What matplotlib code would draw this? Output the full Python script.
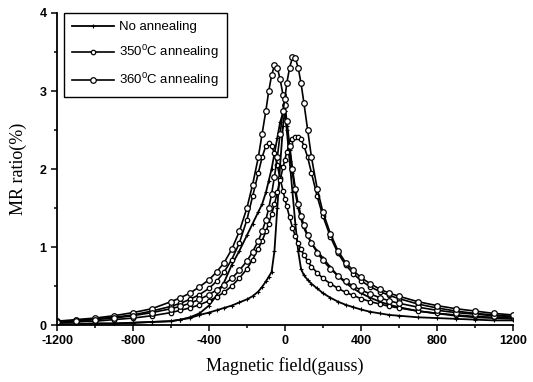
import matplotlib
matplotlib.use("Agg")
import matplotlib.pyplot as plt
from matplotlib.ticker import MultipleLocator

# magnetic field grid (gauss), shared by all branches
field = [-1200, -1100, -1000, -900, -800, -700, -600, -550, -500, -450, -400,
         -360, -320, -280, -240, -200, -170, -140, -120, -100, -85, -70, -55,
         -40, -25, -10, 0, 10, 25, 40, 55, 70, 85, 100, 120, 140, 170, 200,
         240, 280, 320, 360, 400, 450, 500, 550, 600, 700, 800, 900, 1000,
         1100, 1200]

# no annealing, two sweep branches
mr_none_a = [0.01, 0.01, 0.02, 0.02, 0.03, 0.04, 0.05, 0.07, 0.09, 0.13, 0.16,
             0.19, 0.22, 0.25, 0.29, 0.33, 0.37, 0.43, 0.49, 0.56, 0.62, 0.68, 0.95,
             1.5, 2.05, 2.55, 2.75, 2.55, 2.25, 1.95, 1.7, 1.5, 1.36, 1.25, 1.14, 1.05, 0.95, 0.86,
             0.74, 0.63, 0.54, 0.47, 0.41, 0.35, 0.3, 0.26, 0.23, 0.18, 0.15, 0.12, 0.1,
             0.09, 0.08]
mr_none_b = [0.01, 0.01, 0.02, 0.02, 0.03, 0.04, 0.05, 0.07, 0.1, 0.15, 0.25,
             0.38, 0.55, 0.77, 0.95, 1.15, 1.3, 1.45, 1.55, 1.7, 1.85, 2.0, 2.2,
             2.4, 2.6, 2.72, 2.75, 2.5, 2.1, 1.7, 1.3, 0.95, 0.72, 0.64, 0.58, 0.53, 0.47, 0.41,
             0.35, 0.3, 0.26, 0.23, 0.2, 0.17, 0.15, 0.13, 0.12, 0.1, 0.09, 0.08, 0.07,
             0.06, 0.06]

# 350 C annealing
mr_350_a = [0.04, 0.06, 0.08, 0.1, 0.13, 0.18, 0.24, 0.28, 0.33, 0.39, 0.47,
            0.56, 0.68, 0.84, 1.05, 1.35, 1.65, 1.95, 2.15, 2.3, 2.33, 2.3, 2.2,
            2.05, 1.88, 1.72, 1.62, 1.52, 1.38, 1.25, 1.14, 1.05, 0.97, 0.9, 0.82, 0.75, 0.67, 0.6,
            0.53, 0.47, 0.42, 0.38, 0.34, 0.3, 0.27, 0.24, 0.22, 0.18, 0.15, 0.13, 0.11,
            0.1, 0.09]
mr_350_b = [0.03, 0.04, 0.05, 0.07, 0.09, 0.12, 0.16, 0.19, 0.22, 0.26, 0.31,
            0.36, 0.42, 0.5, 0.6, 0.72, 0.84, 0.98, 1.08, 1.2, 1.3, 1.42, 1.55,
            1.7, 1.86, 2.02, 2.12, 2.22, 2.33, 2.39, 2.41, 2.41, 2.38, 2.3, 2.15, 1.95, 1.65, 1.4,
            1.13, 0.92, 0.77, 0.66, 0.57, 0.49, 0.43, 0.38, 0.34, 0.27, 0.22, 0.18, 0.15,
            0.13, 0.11]

# 360 C annealing
mr_360_a = [0.05, 0.07, 0.09, 0.12, 0.16, 0.21, 0.3, 0.35, 0.41, 0.49, 0.58,
            0.68, 0.8, 0.97, 1.2, 1.5, 1.8, 2.15, 2.45, 2.75, 3.0, 3.2, 3.33,
            3.3, 3.15, 2.95, 2.82, 2.62, 2.3, 2.0, 1.75, 1.55, 1.4, 1.28, 1.15, 1.05, 0.93, 0.83,
            0.72, 0.63, 0.56, 0.5, 0.45, 0.4, 0.35, 0.31, 0.28, 0.23, 0.19, 0.16, 0.14,
            0.12, 0.11]
mr_360_b = [0.04, 0.05, 0.07, 0.09, 0.12, 0.16, 0.21, 0.24, 0.28, 0.33, 0.39,
            0.45, 0.52, 0.6, 0.7, 0.82, 0.94, 1.08, 1.2, 1.35, 1.5, 1.68, 1.9,
            2.15, 2.45, 2.75, 2.9, 3.1, 3.3, 3.43, 3.42, 3.3, 3.1, 2.85, 2.5, 2.15, 1.75, 1.45,
            1.17, 0.95, 0.8, 0.7, 0.61, 0.53, 0.46, 0.41, 0.37, 0.3, 0.25, 0.21, 0.18,
            0.15, 0.13]

labels = ["No annealing", "350$^{0}$C annealing", "360$^{0}$C annealing"]

plt.rcParams['font.family'] = ['Liberation Sans', 'DejaVu Sans']
plt.rcParams['mathtext.default'] = 'regular'
plt.rcParams['axes.unicode_minus'] = False

fig = plt.figure(figsize=(5.33, 3.82), dpi=100)
ax = fig.add_axes([0.107, 0.149, 0.855, 0.817])

ax.plot(field, mr_none_a, color='k', lw=1.3, marker='+', ms=3, mew=0.8, label=labels[0])
ax.plot(field, mr_none_b, color='k', lw=1.3, marker='+', ms=3, mew=0.8)
ax.plot(field, mr_350_a, color='k', lw=1.2, marker='o', ms=3.2, mfc='white', mew=0.9, label=labels[1])
ax.plot(field, mr_350_b, color='k', lw=1.2, marker='o', ms=3.2, mfc='white', mew=0.9)
ax.plot(field, mr_360_a, color='k', lw=1.2, marker='o', ms=4, mfc='white', mew=0.9, label=labels[2])
ax.plot(field, mr_360_b, color='k', lw=1.2, marker='o', ms=4, mfc='white', mew=0.9)

ax.set_xlim(-1200, 1200)
ax.set_ylim(0, 4)
ax.xaxis.set_major_locator(MultipleLocator(400))
ax.xaxis.set_minor_locator(MultipleLocator(200))
ax.yaxis.set_major_locator(MultipleLocator(1))
ax.yaxis.set_minor_locator(MultipleLocator(0.5))
ax.tick_params(which='both', direction='out', width=1.1, labelsize=9)
ax.tick_params(which='major', length=4)
ax.tick_params(which='minor', length=2.5)
for lab in ax.get_xticklabels() + ax.get_yticklabels():
    lab.set_fontweight('bold')
ax.spines['top'].set_visible(False)
ax.spines['right'].set_visible(False)
ax.spines['left'].set_linewidth(1.3)
ax.spines['bottom'].set_linewidth(1.3)

ax.set_xlabel('Magnetic field(gauss)', family='Liberation Serif', fontsize=13, labelpad=7)
ax.set_ylabel('MR ratio(%)', family='Liberation Serif', fontsize=13, labelpad=9)

leg = ax.legend(loc='upper left', bbox_to_anchor=(0.015, 1.0), fontsize=9.5,
                numpoints=1, fancybox=False, edgecolor='k', framealpha=1,
                handlelength=3.2, handletextpad=0.4, borderaxespad=0.0,
                labelspacing=0.75, borderpad=0.6)
leg.get_frame().set_linewidth(1.0)

fig.savefig('out.png', dpi=100)
